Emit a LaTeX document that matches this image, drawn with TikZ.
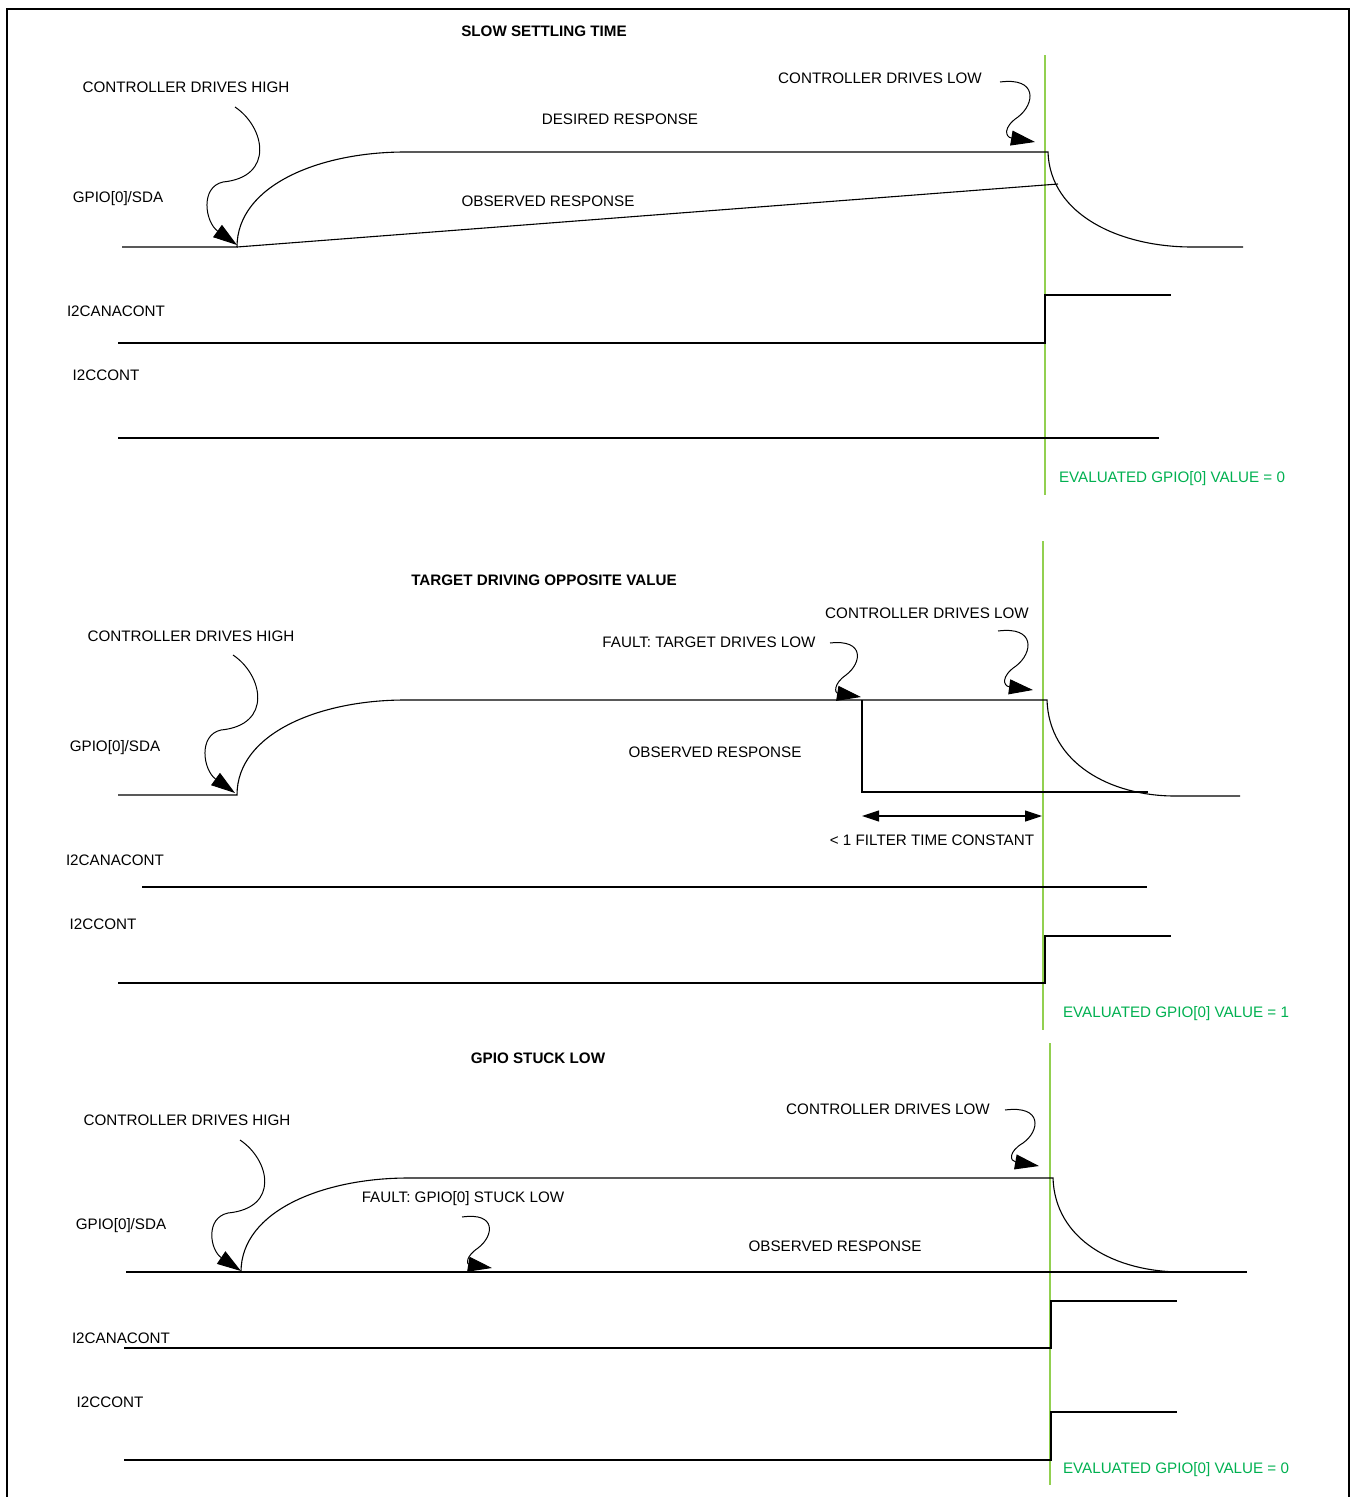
\documentclass[tikz,border=0pt]{standalone}
\usepackage{fontspec}
\setmainfont{Liberation Sans}
\usepackage{tikz}
\usetikzlibrary{arrows.meta}
\definecolor{evalline}{RGB}{146,208,80}
\definecolor{evaltext}{RGB}{0,176,80}

\begin{document}
\begin{tikzpicture}[
  x=1pt, y=-1pt,
  lbl/.style={inner sep=0pt, font=\fontsize{15.2}{18}\selectfont},
  ttl/.style={inner sep=0pt, font=\fontsize{15.2}{18}\selectfont\bfseries},
  evallbl/.style={lbl, text=evaltext},
  wave/.style={line width=1.1pt, line join=miter},
  sample/.style={evalline, line width=1.1pt},
  pointer/.style={-{Triangle[length=24pt,width=15pt]}, line width=1pt},
  span/.style={{Triangle[length=17pt,width=11pt]}-{Triangle[length=17pt,width=11pt]}, line width=1.1pt}
]
\useasboundingbox (0,0) rectangle (1351,1497);
\draw[line width=2.5pt] (7,1497) -- (7,9) -- (1349,9) -- (1349,1497);

% ---------- slow settling time ----------
\node[ttl] (title1) at (544,31) {SLOW SETTLING TIME};
\node[lbl] (cdh1) at (186,87) {CONTROLLER DRIVES HIGH};
\node[lbl] (desired1) at (620,119) {DESIRED RESPONSE};
\node[lbl] (cdl1) at (880,78) {CONTROLLER DRIVES LOW};
\node[lbl] (gpio1) at (118,199) {GPIO[0]/SDA};
\node[lbl] (obs1) at (548,201) {OBSERVED RESPONSE};
\node[lbl] (ana1) at (116,311) {I2CANACONT};
\node[lbl] (cont1) at (106,375) {I2CCONT};
\node[evallbl] (eval1) at (1172,479) {EVALUATED GPIO[0] VALUE = 0};

\draw[sample] (1045,55) -- (1045,495);
\draw[wave] (122,247) -- (237,247) .. controls (237,185) and (320,152) .. (405,152)
  -- (1048,152) .. controls (1050,215) and (1120,247) .. (1192,247) -- (1243,247);
\draw[wave] (237,247) -- (1058,184);
\draw[wave] (118,343) -- (1045,343) -- (1045,295) -- (1171,295);
\draw[wave] (118,438) -- (1159,438);

\draw[pointer] (235,107) .. controls (265,127) and (275,177) .. (223,182)
  .. controls (200,187) and (205,222) .. (237,245);
\draw[pointer] (1000,82) .. controls (1038,77) and (1035,104) .. (1018,117)
  .. controls (1003,127) and (1005,137) .. (1035,142);

% ---------- target driving opposite value ----------
\node[ttl] (title2) at (544,580) {TARGET DRIVING OPPOSITE VALUE};
\node[lbl] (cdh2) at (191,636) {CONTROLLER DRIVES HIGH};
\node[lbl] (cdl2) at (927,613) {CONTROLLER DRIVES LOW};
\node[lbl] (fault2) at (709,642) {FAULT: TARGET DRIVES LOW};
\node[lbl] (gpio2) at (115,748) {GPIO[0]/SDA};
\node[lbl] (obs2) at (715,752) {OBSERVED RESPONSE};
\node[lbl] (filter2) at (932,840) {< 1 FILTER TIME CONSTANT};
\node[lbl] (ana2) at (115,860) {I2CANACONT};
\node[lbl] (cont2) at (103,924) {I2CCONT};
\node[evallbl] (eval2) at (1176,1014) {EVALUATED GPIO[0] VALUE = 1};

\draw[sample] (1043,541) -- (1043,1030);
\draw[wave] (118,795) -- (237,795) .. controls (237,733) and (320,700) .. (405,700)
  -- (1047,700) .. controls (1049,763) and (1110,796) .. (1175,796) -- (1240,796);
\draw[wave] (862,700) -- (862,792) -- (1148,792);
\draw[span] (862,816) -- (1042,816);
\draw[wave] (142,887) -- (1147,887);
\draw[wave] (118,983) -- (1045,983) -- (1045,936) -- (1171,936);

\draw[pointer] (233,655) .. controls (263,675) and (273,725) .. (221,730)
  .. controls (198,735) and (203,770) .. (235,793);
\draw[pointer] (998,631) .. controls (1036,626) and (1033,653) .. (1016,666)
  .. controls (1001,676) and (1003,686) .. (1033,690);
\draw[pointer] (830,643) .. controls (865,639) and (862,663) .. (846,675)
  .. controls (833,684) and (835,693) .. (861,697);

% ---------- gpio stuck low ----------
\node[ttl] (title3) at (538,1058) {GPIO STUCK LOW};
\node[lbl] (cdh3) at (187,1120) {CONTROLLER DRIVES HIGH};
\node[lbl] (cdl3) at (888,1109) {CONTROLLER DRIVES LOW};
\node[lbl] (fault3) at (463,1199) {FAULT: GPIO[0] STUCK LOW};
\node[lbl] (gpio3) at (121,1226) {GPIO[0]/SDA};
\node[lbl] (obs3) at (835,1246) {OBSERVED RESPONSE};
\node[lbl] (ana3) at (121,1338) {I2CANACONT};
\node[lbl] (cont3) at (110,1402) {I2CCONT};
\node[evallbl] (eval3) at (1176,1470) {EVALUATED GPIO[0] VALUE = 0};

\draw[sample] (1050,1043) -- (1050,1485);
\draw[wave] (126,1272) -- (1247,1272);
\draw[wave] (241,1272) .. controls (241,1210) and (325,1178) .. (408,1178)
  -- (1053,1178) .. controls (1055,1240) and (1115,1272) .. (1182,1272);
\draw[wave] (124,1348) -- (1051,1348) -- (1051,1301) -- (1177,1301);
\draw[wave] (124,1460) -- (1051,1460) -- (1051,1412) -- (1177,1412);

\draw[pointer] (240,1140) .. controls (270,1160) and (280,1208) .. (228,1213)
  .. controls (205,1218) and (210,1250) .. (241,1271);
\draw[pointer] (1005,1110) .. controls (1043,1105) and (1040,1131) .. (1023,1143)
  .. controls (1008,1152) and (1010,1161) .. (1039,1166);
\draw[pointer] (462,1217) .. controls (497,1212) and (494,1236) .. (478,1248)
  .. controls (465,1257) and (467,1264) .. (492,1268);

\end{tikzpicture}
\end{document}
